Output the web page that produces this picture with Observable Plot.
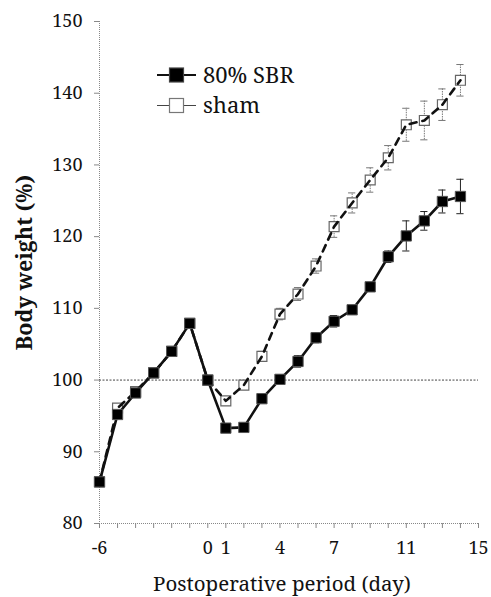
<!DOCTYPE html>
<html><head><meta charset="utf-8">
<script src="https://cdn.jsdelivr.net/npm/d3@7"></script>
<script src="https://cdn.jsdelivr.net/npm/@observablehq/plot@0.6"></script>
<style>
html,body{margin:0;padding:0;background:#fff;}
#wrap{position:relative;width:491px;height:597px;}
#legend{position:absolute;left:0;top:0;}
</style></head><body><div id="wrap"></div>
<script>
const days = [-6,-5,-4,-3,-2,-1,0,1,2,3,4,5,6,7,8,9,10,11,12,13,14];
const sbr = [85.8,95.2,98.2,101.0,104.0,107.9,100.0,93.3,93.4,97.4,100.1,102.6,105.9,108.2,109.8,113.0,117.2,120.1,122.2,124.9,125.6];
const sbrErr = [0.3,0.5,0.5,0.5,0.5,0.5,0.3,0.4,0.4,0.5,0.6,0.8,0.7,0.8,0.6,0.6,0.8,2.1,1.3,1.6,2.4];
const sham = [85.8,96.1,98.4,101.0,104.0,107.9,100.0,97.1,99.3,103.3,109.2,112.0,115.9,121.4,124.7,127.9,131.0,135.6,136.2,138.4,141.8];
const shamErr = [0.3,0.4,0.4,0.4,0.4,0.4,0.3,0.6,0.6,0.7,0.8,0.9,1.0,1.5,1.4,1.7,1.7,2.3,2.7,2.2,2.2];
const yTicks = [80,90,100,110,120,130,140,150];
const xMinorTicks = [-6,-5,-4,-3,-2,-1,0,1,2,3,4,5,6,7,8,9,10,11,12,13,14,15];
const xLabelTicks = [-6,0,1,4,7,11,15];
const series = ["80% SBR","sham"];
const yTitle = "Body weight (%)";
const xTitle = "Postoperative period (day)";

const data = days.map((d,i)=>({day:d, sbr:sbr[i], sbrErr:sbrErr[i], sham:sham[i], shamErr:shamErr[i]}));
const capW = 0.2;
const font = "'Noto Serif', 'Liberation Serif', serif";

const chart = Plot.plot({
  width:491, height:597,
  marginLeft:99, marginRight:13, marginTop:21, marginBottom:74,
  x:{domain:[-6,15]},
  y:{domain:[80,150]},
  style:{fontFamily:font, background:"white", color:"#111"},
  marks:[
    Plot.ruleX([-6],{stroke:"#888", strokeDasharray:"1,1", strokeWidth:1}),
    Plot.ruleY([80],{stroke:"#888", strokeDasharray:"1,1", strokeWidth:1}),
    Plot.ruleY([100],{stroke:"#444", strokeDasharray:"2,1.5", strokeWidth:1}),
    Plot.axisY({ticks:yTicks, tickSize:5, tickPadding:12, fontSize:18, fontFamily:font, label:null, stroke:"#888", tickFormat:d=>String(d)}),
    Plot.axisX({ticks:xMinorTicks, tickSize:5, text:null, label:null, stroke:"#888"}),
    Plot.axisX({ticks:xLabelTicks, tickSize:0, tickPadding:18, fontSize:18, fontFamily:font, label:null, tickFormat:d=>String(d)}),
    Plot.ruleX(data,{x:"day", y1:d=>d.sham-d.shamErr, y2:d=>d.sham+d.shamErr, stroke:"#777", strokeDasharray:"1.5,1", strokeWidth:1}),
    Plot.ruleY(data,{y:d=>d.sham+d.shamErr, x1:d=>d.day-capW, x2:d=>d.day+capW, stroke:"#777", strokeWidth:1}),
    Plot.ruleY(data,{y:d=>d.sham-d.shamErr, x1:d=>d.day-capW, x2:d=>d.day+capW, stroke:"#777", strokeWidth:1}),
    Plot.dot(data,{x:"day", y:"sham", symbol:"square", r:5.6, fill:"white", stroke:"#666", strokeWidth:1.2}),
    Plot.line(data,{x:"day", y:"sham", stroke:"#111", strokeWidth:2.6, strokeDasharray:"7,6"}),
    Plot.ruleX(data,{x:"day", y1:d=>d.sbr-d.sbrErr, y2:d=>d.sbr+d.sbrErr, stroke:"#222", strokeWidth:1}),
    Plot.ruleY(data,{y:d=>d.sbr+d.sbrErr, x1:d=>d.day-capW, x2:d=>d.day+capW, stroke:"#222", strokeWidth:1}),
    Plot.ruleY(data,{y:d=>d.sbr-d.sbrErr, x1:d=>d.day-capW, x2:d=>d.day+capW, stroke:"#222", strokeWidth:1}),
    Plot.line(data,{x:"day", y:"sbr", stroke:"#111", strokeWidth:2.6}),
    Plot.dot(data,{x:"day", y:"sbr", symbol:"square", r:5.8, fill:"#000", stroke:"#555", strokeWidth:1}),
    Plot.text([yTitle],{frameAnchor:"left", rotate:-90, dx:-74, dy:-10, fontSize:21.5, fontWeight:"bold", fontFamily:font, textAnchor:"middle", lineAnchor:"middle"}),
    Plot.text([xTitle],{frameAnchor:"bottom", dx:-7, dy:61, fontSize:20.5, fontFamily:font, textAnchor:"middle", lineAnchor:"middle"})
  ]
});
const wrap = document.getElementById("wrap");
wrap.appendChild(chart);

const lg = d3.select(wrap).append("svg").attr("id","legend").attr("width",491).attr("height",140);
series.forEach((name,i)=>{
  const g = lg.append("g").attr("transform",`translate(0,${75+i*30.5})`);
  g.append("line").attr("x1",157).attr("x2",196).attr("y1",0).attr("y2",0)
    .attr("stroke",i===0?"#111":"#444").attr("stroke-width",i===0?2.2:1.2);
  g.append("rect").attr("x",169.5).attr("y",-7).attr("width",14).attr("height",14)
    .attr("fill",i===0?"#000":"#fff").attr("stroke",i===0?"#444":"#777").attr("stroke-width",1.2);
  g.append("text").attr("x",203).attr("y",0).attr("dy","0.36em")
    .attr("font-family",font).attr("font-size",22).attr("fill","#111").text(name);
});
</script></body></html>
